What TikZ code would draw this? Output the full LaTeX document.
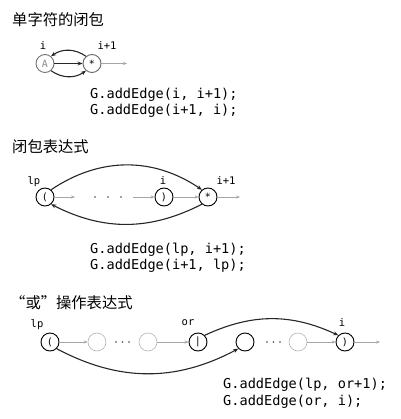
\documentclass[tikz,border=0pt]{standalone}
\usepackage{fontspec}
\setmonofont{DejaVu Sans Mono}
\newfontfamily\cjk{Noto Sans CJK SC}
\usetikzlibrary{arrows.meta}
\begin{document}
\begin{tikzpicture}[x=1pt,y=-1pt,
 st/.style={circle,draw=black,line width=0.9pt,minimum size=18pt,inner sep=0pt,font=\ttfamily\fontsize{10}{10}\selectfont},
 gst/.style={st,draw=black!30,line width=0.6pt},
 earr/.style={-{Stealth[length=5pt,width=4pt]},line width=1.1pt,black!85},
 garr/.style={-{Stealth[length=4pt,width=3pt]},line width=0.6pt,black!35},
 lab/.style={font=\ttfamily\fontsize{10.5}{10.5}\selectfont,inner sep=0pt},
 code/.style={font=\ttfamily\fontsize{13.6}{13.6}\selectfont,anchor=west,inner sep=0pt},
 ttl/.style={font=\cjk\fontsize{15.3}{15.3}\selectfont,anchor=west,inner sep=0pt},
 dotn/.style={circle,fill=black!75,inner sep=0pt,minimum size=1.8pt}]
\useasboundingbox (0,0) rectangle (400,419);
% ---------- section 1
\node[ttl] (t1) at (12,20) {单字符的闭包};
\node[st,draw=black!55,text=black!45] (a) at (45,63.5) {A};
\node[st,draw=black!60] (s1) at (92,63.5) {*};
\node[lab] (la) at (43,46) {i};
\node[lab] (ls1) at (107,46) {i+1};
\coordinate (o1) at (127,63.5);
\draw[garr] (s1) -- (o1);
\draw[earr] (a) -- (s1);
\draw[earr] (s1.130) to[out=145,in=35] (a.50);
\draw[earr] (a.-50) to[out=-35,in=-145] (s1.-130);
\node[code] (c1a) at (90,95) {G.addEdge(i, i+1);};
\node[code] (c1b) at (90,111) {G.addEdge(i+1, i);};
% ---------- section 2
\node[ttl] (t2) at (12,147) {闭包表达式};
\node[st] (lp2) at (45,197) {(};
\node[st] (r2) at (164,197) {)};
\node[st] (s2) at (208,197) {*};
\node[lab] (llp2) at (34,181.5) {lp};
\node[lab] (li2) at (163,181) {i};
\node[lab] (ls2) at (226,181) {i+1};
\node[dotn] (d21) at (95,197) {};
\node[dotn] (d22) at (108,197) {};
\node[dotn] (d23) at (121,197) {};
\coordinate (g2a) at (75,197);
\coordinate (g2b) at (133,197);
\coordinate (g2c) at (240,197);
\draw[garr] (lp2) -- (g2a);
\draw[garr] (g2b) -- (r2);
\draw[garr] (r2) -- (s2);
\draw[garr] (s2) -- (g2c);
\draw[earr] (lp2.50) to[out=34,in=146] (s2.130);
\draw[earr] (s2.-130) to[out=-153,in=-27] (lp2.-50);
\node[code] (c2a) at (90,250) {G.addEdge(lp, i+1);};
\node[code] (c2b) at (90,266) {G.addEdge(i+1, lp);};
% ---------- section 3
\node[ttl] (t3) at (10,303) {“或”操作表达式};
\node[st] (lp3) at (50,342) {(};
\node[gst] (g31) at (97,342) {};
\node[dotn] (d31) at (116,342) {};
\node[dotn] (d32) at (122.5,342) {};
\node[dotn] (d33) at (129,342) {};
\node[gst] (g32) at (148,342) {};
\node[st] (or3) at (198,342) {|};
\node[st] (op3) at (245,342) {};
\node[dotn] (d34) at (267,342) {};
\node[dotn] (d35) at (273.5,342) {};
\node[dotn] (d36) at (280,342) {};
\node[gst] (g33) at (298,342) {};
\node[st] (i3) at (345,342) {)};
\coordinate (o3) at (380,342);
\node[lab] (llp3) at (37,325) {lp};
\node[lab] (lor3) at (188,323) {or};
\node[lab] (li3) at (342,323) {i};
\draw[garr] (lp3) -- (g31);
\draw[garr] (g32) -- (or3);
\draw[garr] (g33) -- (i3);
\draw[garr] (i3) -- (o3);
\draw[earr] (or3.45) to[out=25,in=155] (i3.135);
\draw[earr] (lp3.-45) to[out=-28,in=-152] (op3.-135);
\node[code] (c3a) at (223,385) {G.addEdge(lp, or+1);};
\node[code] (c3b) at (223,401.5) {G.addEdge(or, i);};
\end{tikzpicture}
\end{document}
